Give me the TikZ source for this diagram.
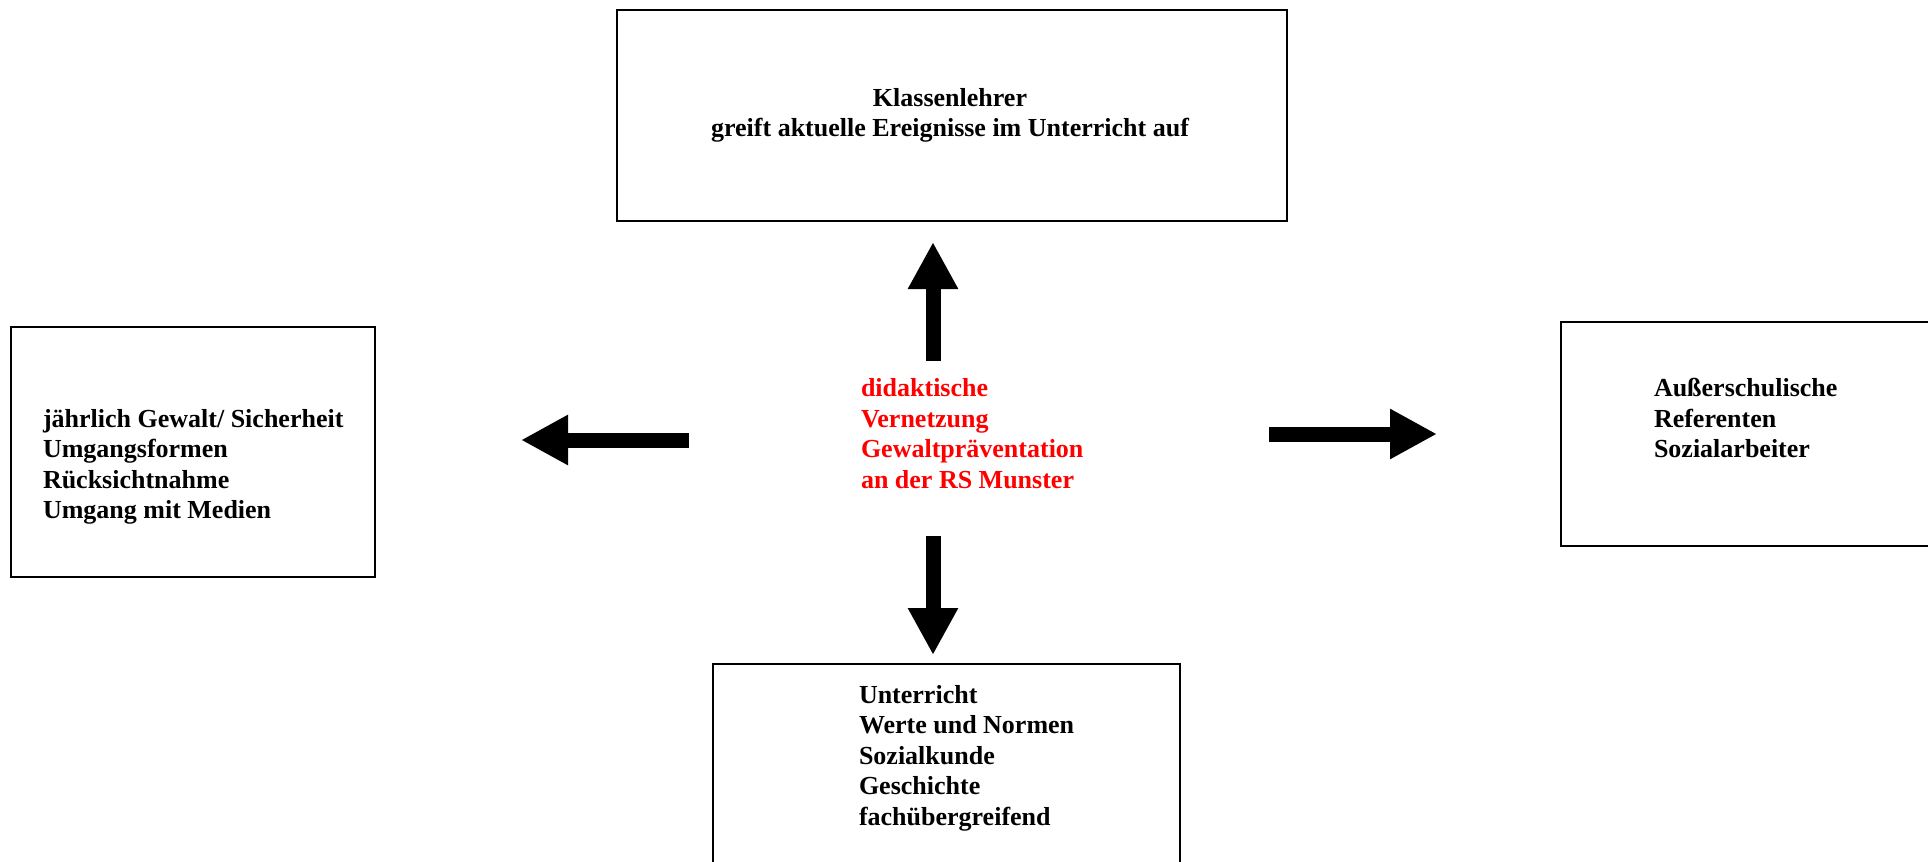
\documentclass[tikz,border=0pt]{standalone}
\usepackage{fontspec}
\setmainfont{Liberation Serif}
\usetikzlibrary{arrows.meta}
\definecolor{netred}{RGB}{255,0,0}
\begin{document}
\begin{tikzpicture}[x=1pt,y=-1pt,
  box/.style={draw=black, line width=2pt, inner sep=0pt, outer sep=0pt, anchor=north west},
  txt/.style={font=\fontsize{26}{30.5}\selectfont\bfseries, inner sep=0pt, outer sep=0pt, align=left, anchor=base west},
  blk/.style={line width=15pt, draw=black, -{Triangle[length=47pt,width=47pt]}}]
\useasboundingbox (0,0) rectangle (1928,862);
% boxes
\node[box, minimum width=670pt, minimum height=211pt] (topbox) at (617,10) {};
\node[box, minimum width=364pt, minimum height=250pt] (leftbox) at (11,327) {};
\node[box, minimum width=400pt, minimum height=224pt] (rightbox) at (1561,322) {};
\node[box, minimum width=467pt, minimum height=230pt] (botbox) at (713,664) {};
% texts (anchored at the baseline of their last line)
\node[txt, align=center, anchor=base] (toptext) at (950,136.5) {Klassenlehrer\\greift aktuelle Ereignisse im Unterricht auf};
\node[txt] (lefttext) at (43,518.5) {jährlich Gewalt/ Sicherheit\\Umgangsformen\\Rücksichtnahme\\Umgang mit Medien};
\node[txt] (righttext) at (1654,457.5) {Außerschulische\\Referenten\\Sozialarbeiter};
\node[txt] (bottext) at (859,825) {Unterricht\\Werte und Normen\\Sozialkunde\\Geschichte\\fachübergreifend};
\node[txt, text=netred] (center) at (861,488) {didaktische\\Vernetzung\\Gewaltpräventation\\an der RS Munster};
% arrows
\coordinate (upS) at (933,361);
\coordinate (upE) at (933,242);
\coordinate (dnS) at (933,536);
\coordinate (dnE) at (933,655);
\coordinate (rtS) at (1269,434);
\coordinate (rtE) at (1437,434);
\coordinate (ltS) at (689,440);
\coordinate (ltE) at (521,440);
\draw[blk] (upS) -- (upE);
\draw[blk] (dnS) -- (dnE);
\draw[blk] (rtS) -- (rtE);
\draw[blk] (ltS) -- (ltE);
\end{tikzpicture}
\end{document}
